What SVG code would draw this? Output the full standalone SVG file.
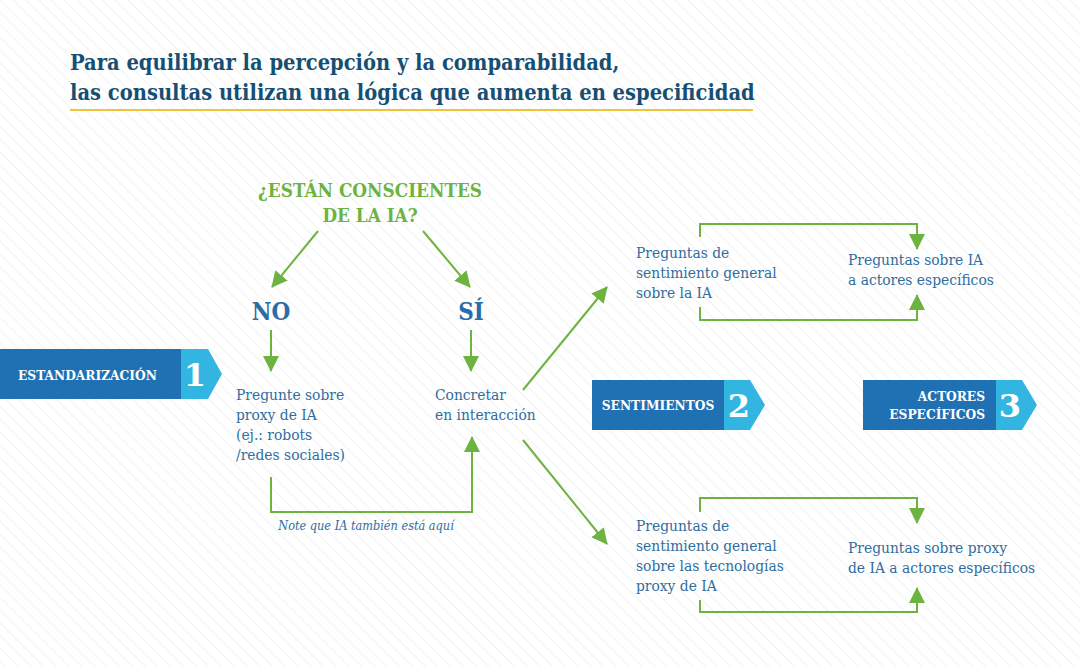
<svg xmlns="http://www.w3.org/2000/svg" width="1080" height="667" viewBox="0 0 1080 667">
<defs>
<pattern id="stripes" width="9" height="9" patternUnits="userSpaceOnUse" patternTransform="rotate(-45)">
<line x1="0" y1="0" x2="0" y2="9" stroke="#e8eaeb" stroke-width="1.2"/>
</pattern>
<marker id="ah" viewBox="0 0 16 16" refX="15" refY="8" markerWidth="16" markerHeight="16" markerUnits="userSpaceOnUse" orient="auto">
<path d="M0,0 L16,8 L0,16 Z" fill="#6cb33f"/>
</marker>
</defs>
<style>
.title{font-family:"DejaVu Serif",serif;font-stretch:condensed;font-weight:bold;font-size:21.7px;fill:#174f73}
.q{font-family:"DejaVu Serif",serif;font-stretch:condensed;font-weight:bold;font-size:18.8px;fill:#6cb33f}
.yn{font-family:"DejaVu Serif",serif;font-stretch:condensed;font-weight:bold;font-size:24px;fill:#2a6ca8}
.body{font-family:"DejaVu Serif",serif;font-stretch:condensed;font-size:15.4px;fill:#2f6d9e}
.note{font-family:"DejaVu Serif",serif;font-stretch:condensed;font-style:italic;font-size:12.6px;fill:#2f6d9e}
.bl{font-family:"DejaVu Serif",serif;font-stretch:condensed;font-weight:bold;font-size:13.6px;fill:#ffffff}
.num{font-family:"DejaVu Serif",serif;font-weight:bold;font-size:32px;fill:#ffffff}
.dk{fill:#2071b4}
.lt{fill:#33b5e2}
.con{fill:none;stroke:#6cb33f;stroke-width:2}
</style>
<rect width="1080" height="667" fill="#ffffff"/>
<rect width="1080" height="667" fill="url(#stripes)"/>

<g id="title">
<text class="title" x="70" y="70">Para equilibrar la percepción y la comparabilidad,</text>
<text class="title" x="70" y="100">las consultas utilizan una lógica que aumenta en especificidad</text>
<line x1="70" y1="110" x2="753" y2="110" stroke="#f0c43a" stroke-width="2"/>
</g>

<g id="banner1">
<rect class="dk" x="0" y="349" width="181" height="50"/>
<polygon class="lt" points="181,349 208,349 222,374 208,399 181,399"/>
<text class="bl" x="18" y="380">ESTANDARIZACIÓN</text>
<text class="num" x="195" y="386" text-anchor="middle">1</text>
</g>

<g id="banner2">
<rect class="dk" x="592" y="380" width="132" height="50"/>
<polygon class="lt" points="724,380 750,380 765,405 750,430 724,430"/>
<text class="bl" x="658" y="410" text-anchor="middle">SENTIMIENTOS</text>
<text class="num" x="739" y="417" text-anchor="middle">2</text>
</g>

<g id="banner3">
<rect class="dk" x="863" y="380" width="133" height="50"/>
<polygon class="lt" points="996,380 1022,380 1037,405 1022,430 996,430"/>
<text class="bl" x="985" y="401" text-anchor="end">ACTORES</text>
<text class="bl" x="985" y="419" text-anchor="end">ESPECÍFICOS</text>
<text class="num" x="1010" y="417" text-anchor="middle">3</text>
</g>

<g id="question">
<text class="q" x="370" y="197" text-anchor="middle">¿ESTÁN CONSCIENTES</text>
<text class="q" x="370" y="222" text-anchor="middle">DE LA IA?</text>
</g>

<g id="no"><text class="yn" x="271" y="320" text-anchor="middle">NO</text></g>
<g id="si"><text class="yn" x="471" y="320" text-anchor="middle">SÍ</text></g>

<g id="pregunte">
<text class="body" x="236" y="400">Pregunte sobre</text>
<text class="body" x="236" y="420">proxy de IA</text>
<text class="body" x="236" y="440">(ej.: robots</text>
<text class="body" x="236" y="460">/redes sociales)</text>
</g>

<g id="concretar">
<text class="body" x="435" y="400">Concretar</text>
<text class="body" x="435" y="420">en interacción</text>
</g>

<g id="note"><text class="note" x="366" y="530" text-anchor="middle">Note que IA también está aquí</text></g>

<g id="sent-ia">
<text class="body" x="636" y="258">Preguntas de</text>
<text class="body" x="636" y="278">sentimiento general</text>
<text class="body" x="636" y="298">sobre la IA</text>
</g>

<g id="actores-ia">
<text class="body" x="848" y="265">Preguntas sobre IA</text>
<text class="body" x="848" y="285">a actores específicos</text>
</g>

<g id="sent-proxy">
<text class="body" x="636" y="531">Preguntas de</text>
<text class="body" x="636" y="551">sentimiento general</text>
<text class="body" x="636" y="571">sobre las tecnologías</text>
<text class="body" x="636" y="591">proxy de IA</text>
</g>

<g id="actores-proxy">
<text class="body" x="848" y="553">Preguntas sobre proxy</text>
<text class="body" x="848" y="573">de IA a actores específicos</text>
</g>

<g id="connectors">
<line class="con" x1="318" y1="231" x2="272" y2="287" marker-end="url(#ah)"/>
<line class="con" x1="423" y1="231" x2="470" y2="287" marker-end="url(#ah)"/>
<line class="con" x1="271" y1="330" x2="271" y2="371" marker-end="url(#ah)"/>
<line class="con" x1="471" y1="330" x2="471" y2="371" marker-end="url(#ah)"/>
<polyline class="con" points="271,477 271,512 472,512 472,437" marker-end="url(#ah)"/>
<line class="con" x1="523" y1="390" x2="607" y2="287" marker-end="url(#ah)"/>
<line class="con" x1="523" y1="440" x2="607" y2="544" marker-end="url(#ah)"/>
<polyline class="con" points="700,237 700,224 917,224 917,249" marker-end="url(#ah)"/>
<polyline class="con" points="700,307 700,320 917,320 917,295" marker-end="url(#ah)"/>
<polyline class="con" points="700,512 700,498 917,498 917,523" marker-end="url(#ah)"/>
<polyline class="con" points="700,600 700,612 917,612 917,588" marker-end="url(#ah)"/>
</g>
</svg>
